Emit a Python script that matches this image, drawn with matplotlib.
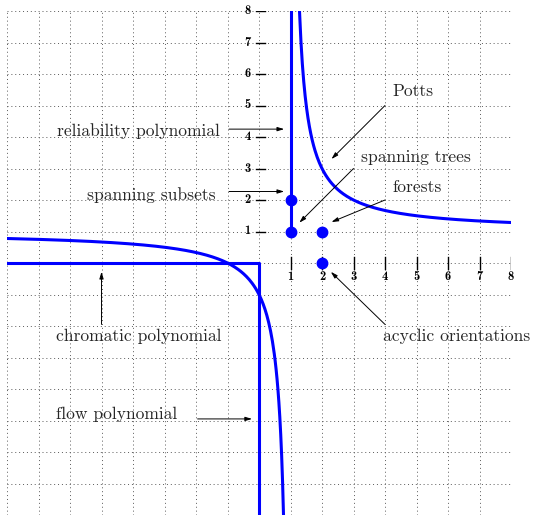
"""Tutte plane: special points and curves of the Tutte polynomial T(x, y)."""

import matplotlib.pyplot as plt
import numpy as np

# hyperbola (x-1)(y-1) = q used for the Potts curves
potts_q = 2.0

# special evaluation points
point_x = [1, 1, 2, 2]
point_y = [1, 2, 1, 0]

tick_values = [1, 2, 3, 4, 5, 6, 7, 8]

# label text, label anchor (x, y, ha), arrow tail, arrow head
labels = [
    ("reliability polynomial", (-1.25, 4.2, "right"), (-0.95, 4.25), (0.8, 4.25)),
    ("spanning subsets", (-1.38, 2.17, "right"), (-0.95, 2.27), (0.8, 2.27)),
    ("Potts", (4.25, 5.45, "left"), (4.0, 5.0), (2.3, 3.3)),
    ("spanning trees", (3.25, 3.37, "left"), (3.0, 3.0), (1.28, 1.28)),
    ("forests", (4.25, 2.4, "left"), (4.0, 2.0), (2.3, 1.3)),
    ("acyclic orientations", (3.95, -2.33, "left"), (4.0, -1.95), (2.28, -0.28)),
    ("chromatic polynomial", (-6.45, -2.33, "left"), (-5.0, -1.95), (-5.0, -0.28)),
    ("flow polynomial", (-6.45, -4.8, "left"), (-1.95, -4.95), (-0.22, -4.95)),
]

BLUE = "#0000ff"


def main() -> None:
    fig = plt.figure(figsize=(5.33, 5.15), dpi=100)
    ax = fig.add_axes([7 / 533, 0.0, 504 / 533, 504 / 515])
    ax.set_xlim(-8, 8)
    ax.set_ylim(-8, 8)
    ax.axis("off")

    # dotted unit grid
    grid = np.arange(-8, 9)
    ax.vlines(grid, -8, 8, colors="0.35", linewidth=0.7, linestyles=(0, (1, 3)), zorder=0)
    ax.hlines(grid, -8, 8, colors="0.35", linewidth=0.7, linestyles=(0, (1, 3)), zorder=0)

    # tick marks and bold labels along the positive axes
    for t in tick_values:
        ax.plot([t, t], [-0.18, 0.18], color="black", linewidth=1.0, zorder=2)
        ax.text(t, -0.45, str(t), ha="center", va="center", fontsize=9,
                fontfamily="cmb10")
        ax.plot([-0.1, 0.18], [t, t], color="black", linewidth=1.0, zorder=2)
        ax.text(-0.37, t, str(t), ha="center", va="center", fontsize=9,
                fontfamily="cmb10")

    # Potts hyperbola, both branches
    xu = np.linspace(1 + potts_q / 7, 8, 300)
    ax.plot(xu, 1 + potts_q / (xu - 1), color=BLUE, linewidth=2.2, zorder=3)
    xl = np.linspace(-8, 1 - potts_q / 9, 300)
    ax.plot(xl, 1 + potts_q / (xl - 1), color=BLUE, linewidth=2.2, zorder=3)

    # reliability line x = 1, chromatic line y = 0, flow line x = 0
    ax.plot([1, 1], [1, 8], color=BLUE, linewidth=2.2, zorder=3)
    ax.plot([-8, 0, 0], [0, 0, -8], color=BLUE, linewidth=2.2, zorder=3)

    ax.plot(point_x, point_y, "o", color=BLUE, markersize=7.5, zorder=4)

    for text, (tx, ty, ha), tail, head in labels:
        ax.text(tx, ty, text, ha=ha, va="center", fontsize=12.6, fontfamily="cmr10",
                color="0.15")
        ax.annotate("", xy=head, xytext=tail,
                    arrowprops=dict(arrowstyle="-|>,head_length=0.4,head_width=0.12",
                                    color="black", linewidth=0.7, shrinkA=0, shrinkB=0))

    fig.savefig("out.png", dpi=100)


if __name__ == "__main__":
    main()
